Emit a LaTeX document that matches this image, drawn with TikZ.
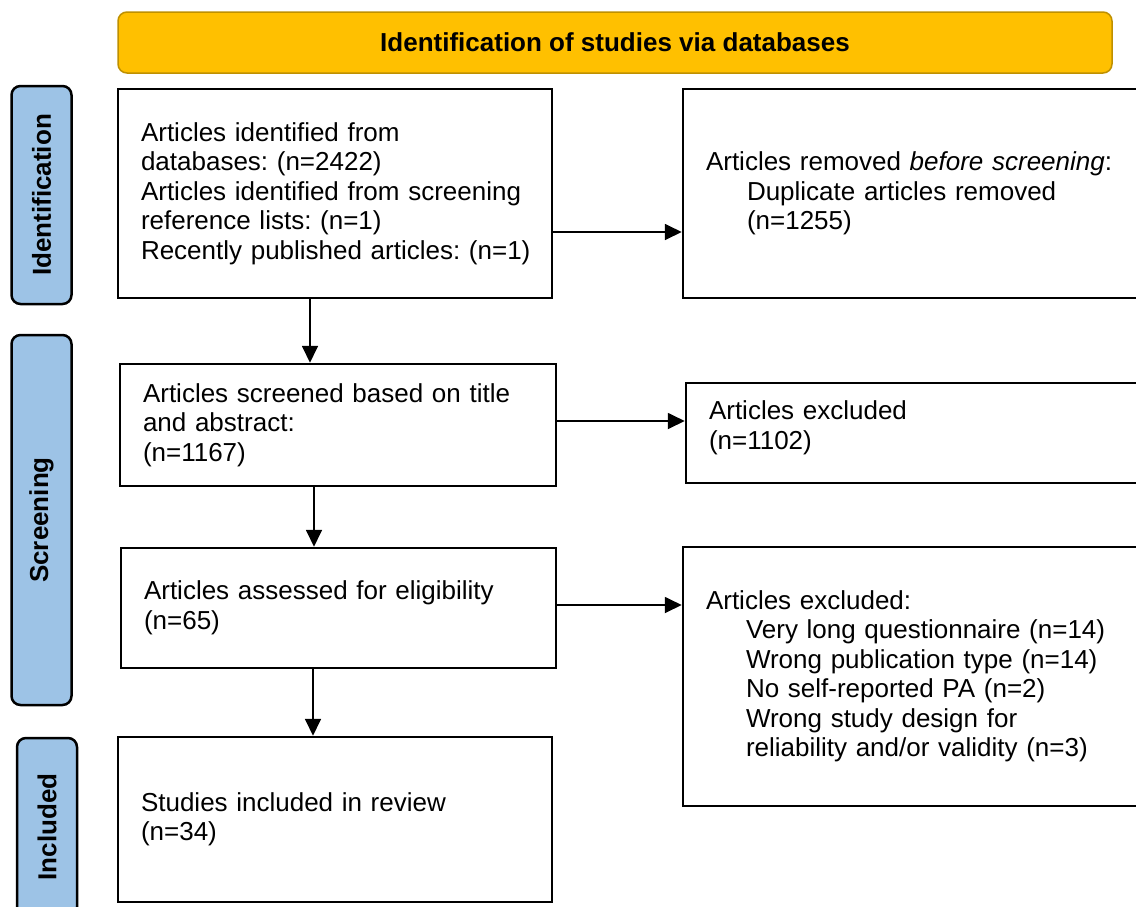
\documentclass[tikz,border=0pt]{standalone}
\usepackage{fontspec}
\setmainfont{Liberation Sans}
\usepackage{xcolor}
\usepackage{tikz}
\usetikzlibrary{arrows.meta, positioning}
\frenchspacing

\definecolor{bannerfill}{HTML}{FFC000}
\definecolor{bannerline}{HTML}{BF9000}
\definecolor{phasefill}{HTML}{9DC3E6}

\begin{document}
\begin{tikzpicture}[
    x=1pt, y=-1pt,
    box/.style={rectangle, draw, line width=2.5pt, align=left, inner xsep=23pt, inner ysep=0pt, font=\fontsize{26}{29.5}\selectfont},
    phase/.style={rectangle, rounded corners=9pt, draw, line width=2.5pt, fill=phasefill, rotate=90, minimum height=60pt, inner sep=0pt, font=\fontsize{26}{29}\selectfont\bfseries},
    banner/.style={rectangle, rounded corners=9pt, draw=bannerline, line width=1.5pt, fill=bannerfill, font=\fontsize{26}{29}\selectfont\bfseries},
    arrow/.style={-{Triangle[length=17pt,width=16pt]}, line width=1.8pt}
]
\useasboundingbox (0,0) rectangle (1136,906);

% Header and phase labels
\node[banner, minimum width=994pt, minimum height=61pt] (head) at (615,42.5) {Identification of studies via databases};
\node[phase, minimum width=218pt] (idphase) at (41.5,195) {Identification};
\node[phase, minimum width=370pt] (scphase) at (41.5,520) {Screening};
\node[phase, minimum width=178pt] (inphase) at (47,827) {Included};

% Main flow
\node[box, text width=388pt, minimum height=209pt] (found) at (335,193.5) {Articles identified from\\databases: (n=2422)\\Articles identified from screening\\reference lists: (n=1)\\\mbox{Recently published articles: (n=1)}};
\node[box, text width=390pt, minimum height=122pt] (screen) at (338,425) {Articles screened based on title\\and abstract:\\(n=1167)};
\node[box, text width=389pt, minimum height=120pt] (assess) at (338.5,608) {Articles assessed for eligibility\\(n=65)};
\node[box, text width=388pt, minimum height=165pt] (incl) at (335,819.5) {Studies included in review\\(n=34)};

% Removed and excluded
\node[box, text width=416pt, minimum height=209pt] (dupl) at (914,193.5) {Articles removed \textit{before screening}:\\\hspace*{41pt}Duplicate articles removed\\\hspace*{41pt}(n=1255)};
\node[box, text width=412pt, minimum height=100pt] (excl1) at (915,433) {Articles excluded\\(n=1102)\\[-14pt]\mbox{}};
\node[box, text width=416pt, minimum height=259pt] (excl2) at (914,676.5) {Articles excluded:\\\hspace*{40pt}Very long questionnaire (n=14)\\\hspace*{40pt}Wrong publication type (n=14)\\\hspace*{40pt}No self-reported PA (n=2)\\\hspace*{40pt}Wrong study design for\\\hspace*{40pt}reliability and/or validity (n=3)};

% Connections
\coordinate (fdown) at ([xshift=-25pt]found.south);
\coordinate (sdown) at ([xshift=-24pt]screen.south);
\coordinate (adown) at ([xshift=-25.5pt]assess.south);
\draw[arrow] (fdown) -- (fdown |- screen.north);
\draw[arrow] (sdown) -- (sdown |- assess.north);
\draw[arrow] (adown) -- (adown |- incl.north);

\coordinate (fright) at ([yshift=-38.5pt]found.east);
\coordinate (sright) at ([yshift=4pt]screen.east);
\coordinate (aright) at ([yshift=3pt]assess.east);
\draw[arrow] (fright) -- (fright -| dupl.west);
\draw[arrow] (sright) -- (sright -| excl1.west);
\draw[arrow] (aright) -- (aright -| excl2.west);

\end{tikzpicture}
\end{document}
